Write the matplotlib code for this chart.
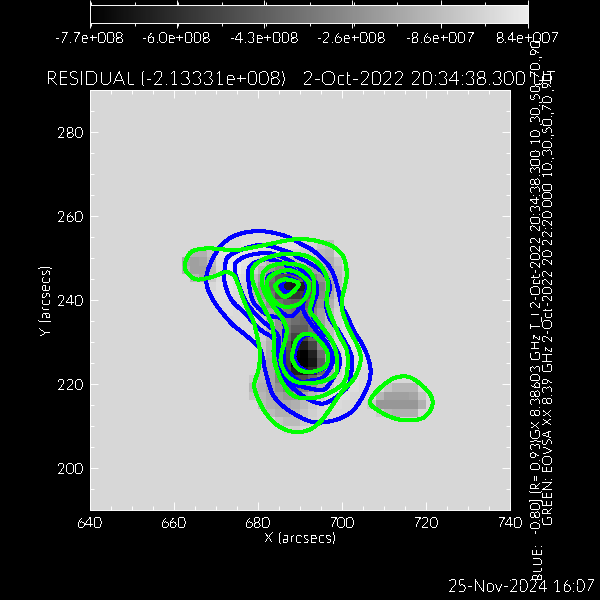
import matplotlib
matplotlib.use('Agg')
import matplotlib.pyplot as plt
import numpy as np
from matplotlib.colors import LinearSegmentedColormap
from matplotlib.patches import PathPatch
from matplotlib.path import Path
from matplotlib.ticker import MultipleLocator

plt.rcParams['font.family'] = ['Lato', 'Liberation Sans', 'DejaVu Sans']
plt.rcParams['font.weight'] = 'light'
plt.rcParams['text.antialiased'] = False
plt.rcParams['axes.unicode_minus'] = False

# residual map, units of 1e7, cells are 2 arcsec wide
x_first, y_top, cell = 662, 256, 2
n_cols, n_rows = 31, 24
background = 1

# (row, first column, values)
residual_rows = [
    (1, 7, [3, 3, 3, 3, 3, 3, 3, 0, 0, -6, -9]),
    (2, 1, [-13, -13, -6, 3, 5, 5, 5, 5, 3, 3, 3, 3, 0, -2, -4, -9, -11, 1]),
    (3, 0, [-17, -19, -17, -9, 2, 7, 7, 5, 2, -4, -11, -13, -11, -10, -9, -9, -11, -13, -6]),
    (4, 0, [-13, -19, -19, -11, 1, 7, 7, 4, -2, -11, -24, -30, -28, -24, -20, -19, -17, -15, -9, -2]),
    (5, 1, [-11, -17, -4, 3, 5, 4, 2, -9, -19, -35, -45, -48, -43, -39, -32, -24, -17, -11, -2]),
    (6, 3, [1, 4, 5, 3, -2, -11, -24, -39, -54, -67, -69, -65, -48, -30, -19, -9, -2]),
    (7, 3, [3, 4, 4, 2, -2, -11, -22, -35, -48, -56, -58, -54, -43, -28, -17, -6, 1]),
    (8, 4, [3, 3, 2, 0, -6, -15, -26, -35, -41, -43, -41, -35, -24, -13, -2]),
    (9, 5, [3, 2, 2, -2, -9, -17, -26, -32, -35, -35, -30, -19, -9, 0]),
    (10, 6, [2, 2, 1, -4, -13, -24, -32, -37, -39, -32, -19, -9, 0, 3]),
    (11, 7, [2, 2, -2, -11, -24, -35, -43, -43, -35, -22, -9, 0, 3, 4]),
    (12, 8, [2, -2, -11, -24, -39, -52, -52, -39, -22, -9, 0, 4, 4]),
    (13, 9, [-4, -13, -26, -45, -63, -67, -52, -28, -11, 0, 4, 5]),
    (14, 9, [-6, -15, -28, -50, -72, -76, -65, -37, -15, -1, 4, 5, 3]),
    (15, 9, [-9, -17, -30, -52, -74, -77, -69, -43, -17, -2, 4, 5, 3]),
    (16, 9, [-11, -17, -32, -50, -65, -69, -60, -39, -17, -2, 3, 4]),
    (17, 8, [-4, -11, -17, -30, -43, -50, -50, -41, -26, -11, -1, 3, 4]),
    (18, 8, [-11, -13, -17, -24, -32, -35, -30, -24, -15, -4, 2, 4, 3]),
    (18, 24, [-6, -11, -11, -11]),
    (19, 8, [-6, -11, -15, -19, -22, -22, -17, -11, -4, 2, 4, 4]),
    (19, 23, [-11, -19, -19, -19, -17, -6]),
    (20, 9, [-9, -13, -15, -15, -13, -9, -4, 0, 3, 2]),
    (20, 22, [-4, -22, -22, -22, -22, -22, -13]),
    (21, 10, [-9, -13, -13, -11, -6, -2]),
    (21, 23, [-4, -11, -13, -13, -13]),
    (22, 11, [-6, -9, -9, -4, -1]),
    (23, 12, [-1, -2]),
]

# blue contours, x and y in arcsec
blue1_x = [671.0, 674.9, 680.5, 686.0, 690.0, 693.2, 696.4, 698.0, 699.1, 699.9, 701.5, 702.7, 705.5, 706.8, 705.9, 702.7, 698.3, 692.8, 687.2, 683.6, 681.7, 681.2, 680.1, 676.5, 673.7, 669.8, 667.8, 668.2]
blue1_y = [252.7, 255.5, 256.4, 255.4, 253.5, 251.7, 248.7, 246.0, 242.4, 238.8, 235.6, 232.9, 228.1, 223.3, 219.0, 213.8, 211.4, 211.0, 213.8, 217.4, 223.3, 226.0, 228.9, 232.1, 234.4, 239.2, 243.6, 247.5]
blue2_x = [672.1, 672.1, 672.9, 676.5, 681.3, 687.6, 689.2, 692.4, 695.6, 697.1, 696.2, 697.1, 699.5, 702.3, 701.9, 700.7, 695.9, 691.6, 687.2, 686.0, 684.8, 684.0, 680.5, 676.9, 673.7]
blue2_y = [244.0, 247.5, 250.3, 252.1, 253.1, 251.3, 250.3, 248.7, 246.4, 243.2, 239.2, 235.6, 232.1, 226.5, 221.0, 218.6, 215.4, 216.6, 220.2, 223.3, 227.0, 230.5, 233.0, 236.8, 240.0]
blue3_x = [674.5, 674.9, 678.1, 682.9, 687.6, 690.8, 693.6, 694.0, 692.8, 694.0, 697.9, 699.5, 697.1, 695.2, 690.4, 686.8, 685.2, 685.0, 684.4, 680.0, 676.9, 674.9]
blue3_y = [247.1, 249.1, 250.7, 251.1, 249.3, 246.8, 244.4, 241.6, 237.6, 234.4, 229.7, 224.9, 220.2, 218.6, 219.4, 221.0, 225.0, 229.7, 232.1, 236.0, 240.0, 245.2]
blue4_x = [677.7, 678.1, 681.3, 684.5, 687.6, 690.4, 691.6, 691.2, 690.8, 693.2, 696.4, 697.9, 695.6, 692.4, 690.0, 686.4, 686.2, 686.0, 682.1, 678.9]
blue4_y = [244.8, 248.0, 249.6, 249.3, 247.7, 245.8, 243.5, 241.0, 237.6, 233.6, 229.7, 225.7, 221.7, 220.8, 220.6, 224.1, 230.0, 235.2, 236.5, 239.6]
blue5_x = [682.1, 683.7, 687.6, 691.6, 690.8, 688.4, 686.0, 682.9]
blue5_y = [244.8, 246.3, 246.7, 244.4, 240.0, 236.4, 236.8, 240.8]
blue6_x = [685.6, 687.2, 689.6, 688.4, 686.4]
blue6_y = [243.6, 245.2, 244.0, 242.0, 242.0]
blue7_x = [688.8, 690.8, 693.6, 696.4, 697.2, 695.6, 692.0, 689.2]
blue7_y = [227.7, 231.3, 231.3, 228.1, 225.7, 223.7, 222.9, 224.9]

# green contours
green1_x = [662.6, 664.2, 667.8, 671.0, 674.9, 679.7, 687.6, 692.0, 697.1, 700.3, 701.1, 699.9, 701.1, 704.4, 703.1, 700.3, 697.5, 695.2, 692.8, 690.0, 686.8, 683.6, 680.9, 679.1, 680.1, 680.5, 679.7, 678.9, 676.9, 675.3, 674.1, 672.1, 669.4, 665.4, 663.0]
green1_y = [248.7, 251.5, 252.3, 252.1, 251.9, 252.7, 254.3, 254.4, 253.1, 250.3, 245.6, 239.2, 234.4, 227.0, 221.7, 218.6, 214.6, 211.4, 209.4, 208.6, 209.0, 211.0, 214.6, 219.4, 223.3, 227.3, 231.7, 234.9, 239.2, 243.6, 246.0, 246.6, 245.6, 244.9, 246.7]
green2_x = [678.5, 679.7, 684.4, 690.8, 694.8, 696.7, 696.4, 699.1, 701.1, 701.3, 700.3, 696.0, 691.2, 687.2, 684.0, 683.7, 682.9, 680.5]
green2_y = [245.6, 248.7, 250.7, 250.7, 248.3, 244.0, 239.2, 232.1, 228.1, 223.7, 220.2, 217.4, 216.6, 218.2, 224.9, 232.1, 235.2, 240.0]
green3_x = [680.9, 682.1, 686.0, 690.8, 693.2, 693.2, 692.4, 694.0, 697.9, 698.9, 698.3, 695.2, 690.4, 687.2, 685.5, 685.6, 686.8, 686.0, 682.1]
green3_y = [244.8, 247.5, 248.7, 247.9, 245.2, 241.2, 237.5, 235.2, 229.7, 224.9, 222.1, 220.6, 220.2, 221.7, 224.9, 227.3, 232.1, 235.2, 240.8]
green4_x = [682.1, 684.0, 688.0, 691.6, 692.0, 690.0, 686.4, 683.6]
green4_y = [244.0, 246.3, 247.0, 244.8, 242.0, 239.2, 238.4, 240.0]
green5_x = [684.2, 686.4, 689.6, 688.4, 686.4, 684.8]
green5_y = [243.6, 244.9, 244.0, 242.0, 240.8, 242.0]
green6_x = [688.2, 689.2, 691.2, 693.6, 696.0, 696.7, 696.0, 692.8, 690.0, 688.4]
green6_y = [227.3, 230.5, 231.9, 231.3, 228.5, 226.5, 224.1, 222.9, 223.3, 225.3]
green7_x = [706.7, 708.6, 712.2, 715.8, 719.0, 721.3, 721.3, 719.0, 714.6, 710.6]
green7_y = [215.4, 218.6, 221.3, 221.7, 219.7, 217.0, 214.2, 211.8, 211.4, 212.6]

blue_contours = [(blue1_x, blue1_y), (blue2_x, blue2_y), (blue3_x, blue3_y), (blue4_x, blue4_y),
                 (blue5_x, blue5_y), (blue6_x, blue6_y), (blue7_x, blue7_y)]
green_contours = [(green1_x, green1_y), (green2_x, green2_y), (green3_x, green3_y), (green4_x, green4_y),
                  (green5_x, green5_y), (green6_x, green6_y), (green7_x, green7_y)]

bar_ticks = [-7.7e8, -6.0e8, -4.3e8, -2.6e8, -8.6e7, 8.4e7]
bar_labels = ['-7.7e+008', '-6.0e+008', '-4.3e+008', '-2.6e+008', '-8.6e+007', '8.4e+007']
vmin, vmax = -7.7e8, 8.4e7


def closed_curve(xs, ys):
    # bezier segments through the read points so the contour comes out round
    pts = np.column_stack([xs, ys])
    tangents = (np.roll(pts, -1, axis=0) - np.roll(pts, 1, axis=0)) / 6
    verts = [pts[0]]
    codes = [Path.MOVETO]
    for i in range(len(pts)):
        j = (i + 1) % len(pts)
        verts += [pts[i] + tangents[i], pts[j] - tangents[j], pts[j]]
        codes += [Path.CURVE4, Path.CURVE4, Path.CURVE4]
    return Path(verts, codes)


def txt(x, y, s, **kw):
    # x, y in figure pixels from the top left
    fig.text(x / 600, 1 - y / 600, s, color='white', **kw)


grid = np.full((n_rows, n_cols), background, dtype=float)
for row, col, vals in residual_rows:
    grid[row, col:col + len(vals)] = vals
grid = grid * 1e7

fig = plt.figure(figsize=(6, 6), dpi=100, facecolor='black')
ax = fig.add_axes([90 / 600, 90 / 600, 420 / 600, 420 / 600], facecolor='black')
cmap = LinearSegmentedColormap.from_list('idlgray', ['#000000', '#ececec'])

# plain background over the whole plot, then the map
ax.imshow(np.full((2, 2), background * 1e7), cmap=cmap, vmin=vmin, vmax=vmax,
          extent=[640, 740, 190, 290], aspect='auto', interpolation='nearest')
im = ax.imshow(grid, cmap=cmap, vmin=vmin, vmax=vmax, interpolation='nearest', aspect='auto',
               extent=[x_first, x_first + n_cols * cell, y_top - n_rows * cell, y_top])

for xs, ys in blue_contours:
    ax.add_patch(PathPatch(closed_curve(xs, ys), fill=False, edgecolor='#0000ff', lw=2.2, antialiased=False))
for xs, ys in green_contours:
    ax.add_patch(PathPatch(closed_curve(xs, ys), fill=False, edgecolor='#00ff00', lw=2.2, antialiased=False))

ax.set_xlim(640, 740)
ax.set_ylim(190, 290)
ax.xaxis.set_major_locator(MultipleLocator(20))
ax.xaxis.set_minor_locator(MultipleLocator(5))
ax.yaxis.set_major_locator(MultipleLocator(20))
ax.yaxis.set_minor_locator(MultipleLocator(5))
ax.tick_params(which='major', direction='in', length=6, width=0.7, color='white', labelcolor='white',
               top=True, right=True, labelsize=11, pad=5)
ax.tick_params(which='minor', direction='in', length=3, width=0.7, color='white', top=True, right=True)
for s in ax.spines.values():
    s.set_color('white')
    s.set_linewidth(0.7)

# colour bar
cax = fig.add_axes([90 / 600, 1 - 23 / 600, 438 / 600, 18 / 600])
cb = fig.colorbar(im, cax=cax, orientation='horizontal')
cb.set_ticks(bar_ticks, labels=bar_labels)
cb.ax.xaxis.set_minor_locator(MultipleLocator(8.54e7))
cax.tick_params(which='major', direction='out', length=3.5, width=0.7, color='white', labelcolor='white',
                top=True, labelsize=11, pad=3)
cax.tick_params(which='minor', direction='out', length=2, width=0.7, color='white', top=True)
cb.outline.set_edgecolor('white')
cb.outline.set_linewidth(0.7)

txt(46, 85, 'RESIDUAL (-2.13331e+008)   2-Oct-2022 20:34:38.300 UT', fontsize=14, ha='left', va='baseline')
txt(300, 543, 'X (arcsecs)', fontsize=11.5, ha='center', va='baseline')
txt(54, 300, 'Y (arcsecs)', fontsize=11.5, rotation=90, ha='right', va='center')
txt(544, 579, 'BLUE:', fontsize=10, rotation=90, ha='right', va='bottom')
txt(544, 534, '-0.80] (R= 0.93)GX 8.38603 GHz T_I 2-Oct-2022 20:34:38.300 10.,30.,50.,70.,90.', fontsize=10,
    rotation=90, ha='right', va='bottom')
txt(555, 525, 'GREEN: EOVSA XX 8.39 GHz 2-Oct-2022 20:22:20.000 10.,30.,50.,70.,90.', fontsize=10,
    rotation=90, ha='right', va='bottom')
txt(595, 592, '25-Nov-2024 16:07', fontsize=12, ha='right', va='baseline')

fig.savefig('out.png', dpi=100, facecolor='black')
